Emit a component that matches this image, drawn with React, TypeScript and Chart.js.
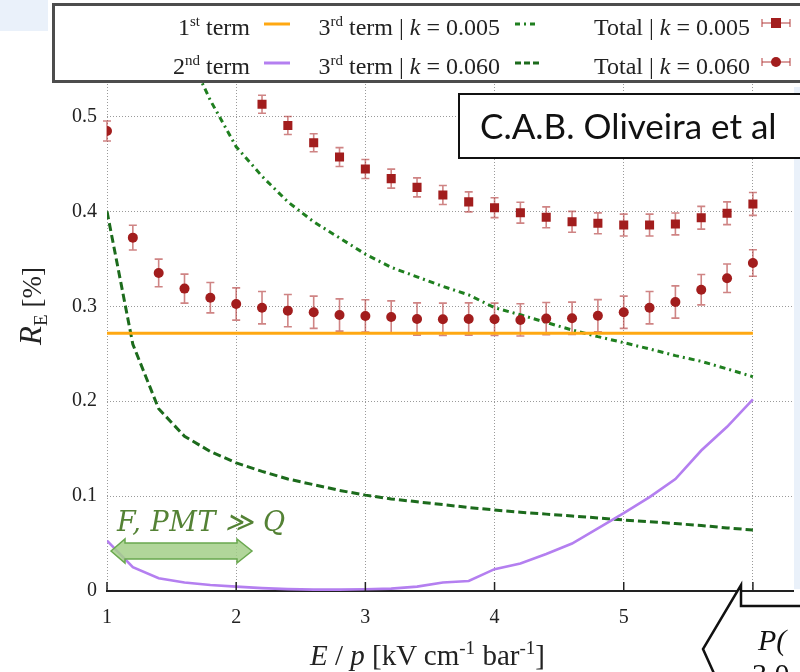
import React, { useEffect, useRef } from "react";
import { Chart, registerables } from "chart.js";

Chart.register(...registerables);

// Reduced field E/p [kV cm^-1 bar^-1]
const E_OVER_P = [
  1.0, 1.2, 1.4, 1.6, 1.8, 2.0, 2.2, 2.4, 2.6, 2.8, 3.0, 3.2, 3.4,
  3.6, 3.8, 4.0, 4.2, 4.4, 4.6, 4.8, 5.0, 5.2, 5.4, 5.6, 5.8, 6.0,
];

// 1st term (constant)
const FIRST_TERM = 0.2715;

// 2nd term
const SECOND_TERM = [
  0.053, 0.025, 0.0135, 0.009, 0.0063, 0.0046, 0.003, 0.002, 0.0015, 0.0015,
  0.0018, 0.0025, 0.0046, 0.009, 0.0105, 0.023, 0.029, 0.039, 0.05, 0.066,
  0.082, 0.099, 0.118, 0.148, 0.173, 0.202,
];

// 3rd term, k = 0.005
const THIRD_TERM_K005 = [
  null, null, null, 0.575, 0.517, 0.468, 0.437, 0.41, 0.389, 0.372, 0.355,
  0.341, 0.331, 0.321, 0.312, 0.2985, 0.291, 0.283, 0.275, 0.268, 0.2617,
  0.255, 0.248, 0.242, 0.234, 0.2258,
];

// 3rd term, k = 0.060
const THIRD_TERM_K060 = [
  0.4, 0.26, 0.192, 0.163, 0.147, 0.135, 0.126, 0.118, 0.112, 0.106, 0.101,
  0.097, 0.094, 0.091, 0.088, 0.0854, 0.083, 0.081, 0.079, 0.077, 0.0748,
  0.073, 0.071, 0.069, 0.0665, 0.0643,
];

// Total, k = 0.005 (values and uncertainties)
const TOTAL_K005 = [
  null, null, null, null, null, null, 0.5128, 0.4905, 0.4723, 0.4572, 0.4446,
  0.4345, 0.4253, 0.4172, 0.41, 0.4039, 0.3986, 0.3937, 0.389, 0.3874,
  0.3856, 0.3856, 0.3867, 0.3933, 0.398, 0.4078,
];
const TOTAL_K005_ERR = [
  null, null, null, null, null, null, 0.0095, 0.0095, 0.0095, 0.01, 0.01,
  0.01, 0.01, 0.01, 0.0105, 0.0105, 0.011, 0.011, 0.011, 0.011, 0.0115,
  0.0115, 0.0115, 0.012, 0.012, 0.012,
];

// Total, k = 0.060 (values and uncertainties)
const TOTAL_K060 = [
  0.4847, 0.3723, 0.3351, 0.3186, 0.309, 0.3024, 0.2985, 0.2954, 0.2937,
  0.2908, 0.2898, 0.2887, 0.2866, 0.2863, 0.2866, 0.2863, 0.2856, 0.287,
  0.2874, 0.29, 0.2937, 0.2985, 0.3045, 0.3175, 0.3295, 0.3456,
];
const TOTAL_K060_ERR = [
  0.0105, 0.013, 0.0146, 0.0153, 0.016, 0.017, 0.017, 0.017, 0.017, 0.017,
  0.017, 0.017, 0.017, 0.017, 0.017, 0.017, 0.017, 0.017, 0.017, 0.017,
  0.017, 0.017, 0.017, 0.016, 0.015, 0.014,
];

const X_TICKS = [1, 2, 3, 4, 5, 6];
const Y_TICKS = [0, 0.1, 0.2, 0.3, 0.4, 0.5];

const RED = "#a21d1d";
const RED_ERR = "rgba(175, 50, 50, 0.6)";
const ORANGE = "#ffa812";
const PURPLE = "#b47ff0";
const GREEN_DD = "#1f7f1f";
const GREEN_D = "#1c6b1c";
const SERIF = "'Liberation Serif', 'Times New Roman', serif";

const points = (ys: (number | null)[]) =>
  E_OVER_P.map((x, i) => ({ x, y: ys[i] }));

// vertical error bars drawn under the markers
const errorBarPlugin = {
  id: "errorBars",
  beforeDatasetsDraw(chart: any) {
    const { ctx, scales } = chart;
    const xs = scales.x;
    const ys = scales.y;
    chart.data.datasets.forEach((ds: any) => {
      if (!ds.errors) return;
      ctx.save();
      ctx.strokeStyle = RED_ERR;
      ctx.lineWidth = 1.6;
      ds.data.forEach((p: any, j: number) => {
        const e = ds.errors[j];
        if (p.y == null || e == null) return;
        const px = xs.getPixelForValue(p.x);
        const top = ys.getPixelForValue(p.y + e);
        const bot = ys.getPixelForValue(p.y - e);
        ctx.beginPath();
        ctx.moveTo(px, top);
        ctx.lineTo(px, bot);
        ctx.moveTo(px - 4, top);
        ctx.lineTo(px + 4, top);
        ctx.moveTo(px - 4, bot);
        ctx.lineTo(px + 4, bot);
        ctx.stroke();
      });
      ctx.restore();
    });
  },
};

// inward tick marks on the bottom axis
const innerTicksPlugin = {
  id: "innerTicks",
  afterDraw(chart: any) {
    const { ctx, chartArea, scales } = chart;
    ctx.save();
    ctx.strokeStyle = "#222";
    ctx.lineWidth = 1.5;
    X_TICKS.forEach((v) => {
      const px = scales.x.getPixelForValue(v);
      ctx.beginPath();
      ctx.moveTo(px, chartArea.bottom);
      ctx.lineTo(px, chartArea.bottom - 9);
      ctx.stroke();
    });
    ctx.restore();
  },
};

function buildConfig(): any {
  return {
    type: "line",
    data: {
      datasets: [
        {
          label: "Total | k = 0.005",
          data: points(TOTAL_K005),
          errors: TOTAL_K005_ERR,
          showLine: false,
          pointStyle: "rect",
          pointRadius: 6.4,
          pointBackgroundColor: RED,
          pointBorderWidth: 0,
        },
        {
          label: "Total | k = 0.060",
          data: points(TOTAL_K060),
          errors: TOTAL_K060_ERR,
          showLine: false,
          pointStyle: "circle",
          pointRadius: 5,
          pointBackgroundColor: RED,
          pointBorderWidth: 0,
        },
        {
          label: "1st term",
          data: [
            { x: E_OVER_P[0], y: FIRST_TERM },
            { x: E_OVER_P[E_OVER_P.length - 1], y: FIRST_TERM },
          ],
          borderColor: ORANGE,
          borderWidth: 3,
          pointRadius: 0,
        },
        {
          label: "2nd term",
          data: points(SECOND_TERM),
          borderColor: PURPLE,
          borderWidth: 2.6,
          pointRadius: 0,
        },
        {
          label: "3rd term | k = 0.005",
          data: points(THIRD_TERM_K005),
          borderColor: GREEN_DD,
          borderWidth: 3,
          borderDash: [6, 4, 2, 4],
          pointRadius: 0,
        },
        {
          label: "3rd term | k = 0.060",
          data: points(THIRD_TERM_K060),
          borderColor: GREEN_D,
          borderWidth: 3,
          borderDash: [8, 4],
          pointRadius: 0,
        },
      ],
    },
    options: {
      animation: false,
      responsive: false,
      events: [],
      layout: { padding: { left: 8, top: 69, right: 0, bottom: 0 } },
      plugins: { legend: { display: false }, tooltip: { enabled: false } },
      scales: {
        x: {
          type: "linear",
          min: 1,
          max: 6.315,
          afterFit: (s: any) => {
            s.height = 81;
          },
          ticks: {
            stepSize: 1,
            includeBounds: false,
            padding: 15,
            color: "#222",
            font: { family: SERIF, size: 20 },
            callback: (v: number) => String(v),
          },
          grid: { color: "#9a9a9a", lineWidth: 1, drawTicks: false },
          border: { display: true, color: "#222", width: 2, dash: [1, 2] },
        },
        y: {
          type: "linear",
          min: 0,
          max: 0.55,
          afterFit: (s: any) => {
            s.width = 99;
          },
          afterBuildTicks: (s: any) => {
            s.ticks = Y_TICKS.map((value) => ({ value }));
          },
          ticks: {
            padding: 10,
            color: "#222",
            font: { family: SERIF, size: 20 },
            callback: (v: number) => (v === 0 ? "0" : Number(v).toFixed(1)),
          },
          grid: { color: "#9a9a9a", lineWidth: 1, drawTicks: false },
          border: { display: false, dash: [1, 2] },
        },
      },
    },
    plugins: [errorBarPlugin, innerTicksPlugin],
  };
}

const Sup = ({ children }: { children: string }) => (
  <>
    <tspan dy={-9} fontSize={15}>
      {children}
    </tspan>
    <tspan dy={9}> </tspan>
  </>
);

function Overlay() {
  const legendText = {
    fontFamily: SERIF,
    fontSize: 24,
    fill: "#222",
    textAnchor: "end" as const,
  };
  return (
    <svg
      width={800}
      height={672}
      style={{ position: "absolute", left: 0, top: 0 }}
    >
      {/* slide background pieces */}
      <rect x={0} y={0} width={48} height={31} fill="#eaf1fa" />
      <rect x={794} y={87} width={6} height={502} fill="#eaf1fa" />

      {/* key */}
      <rect
        x={53.5}
        y={4.5}
        width={780}
        height={77}
        fill="#fff"
        stroke="#4d4d4d"
        strokeWidth={3}
      />
      <text x={250} y={35} {...legendText}>
        1<Sup>st</Sup>term
      </text>
      <text x={250} y={74} {...legendText}>
        2<Sup>nd</Sup>term
      </text>
      <text x={500} y={35} {...legendText}>
        3<Sup>rd</Sup>term | <tspan fontStyle="italic">k</tspan> = 0.005
      </text>
      <text x={500} y={74} {...legendText}>
        3<Sup>rd</Sup>term | <tspan fontStyle="italic">k</tspan> = 0.060
      </text>
      <text x={750} y={35} {...legendText}>
        Total | <tspan fontStyle="italic">k</tspan> = 0.005
      </text>
      <text x={750} y={74} {...legendText}>
        Total | <tspan fontStyle="italic">k</tspan> = 0.060
      </text>
      <line x1={264} y1={24} x2={290} y2={24} stroke={ORANGE} strokeWidth={3} />
      <line x1={264} y1={63} x2={290} y2={63} stroke={PURPLE} strokeWidth={3} />
      <line
        x1={515}
        y1={24}
        x2={538}
        y2={24}
        stroke={GREEN_DD}
        strokeWidth={3}
        strokeDasharray="5 4 2 4"
      />
      <line
        x1={515}
        y1={63}
        x2={539}
        y2={63}
        stroke={GREEN_D}
        strokeWidth={3}
        strokeDasharray="6 3"
      />
      <g stroke={RED_ERR} strokeWidth={1.6}>
        <line x1={762} y1={23} x2={790} y2={23} />
        <line x1={762} y1={19} x2={762} y2={27} />
        <line x1={790} y1={19} x2={790} y2={27} />
        <line x1={762} y1={62} x2={790} y2={62} />
        <line x1={762} y1={58} x2={762} y2={66} />
        <line x1={790} y1={58} x2={790} y2={66} />
      </g>
      <rect x={771} y={18} width={10} height={10} fill={RED} />
      <circle cx={776} cy={62} r={5} fill={RED} />

      {/* axis titles */}
      <text x={310} y={665} fontFamily={SERIF} fontSize={29} fill="#222">
        <tspan fontStyle="italic">E</tspan> / <tspan fontStyle="italic">p</tspan> [kV cm
        <tspan dy={-11} fontSize={19}>-1</tspan>
        <tspan dy={11}> bar</tspan>
        <tspan dy={-11} fontSize={19}>-1</tspan>
        <tspan dy={11}>]</tspan>
      </text>
      <text
        transform="translate(41 306) rotate(-90)"
        textAnchor="middle"
        fontFamily={SERIF}
        fontSize={27}
        fill="#222"
      >
        <tspan fontStyle="italic" fontSize={31}>R</tspan>
        <tspan dy={6} fontSize={19}>E</tspan>
        <tspan dy={-6}> [%]</tspan>
      </text>

      {/* author box */}
      <rect
        x={459}
        y={94}
        width={380}
        height={64}
        fill="#fff"
        stroke="#111"
        strokeWidth={2}
      />
      <text x={480} y={139} fontFamily="Lato, 'Open Sans', sans-serif" fontSize={35} fill="#111">
        C.A.B. Oliveira et al
      </text>

      {/* regime marker */}
      <polygon
        points="111,551 125,539 125,543 237,543 237,539 252,551 237,563 237,559 125,559 125,563"
        fill="#a3cf88"
        fillOpacity={0.85}
        stroke="#6aa84f"
        strokeWidth={1.5}
      />
      <text
        x={117}
        y={531}
        fontFamily="'DejaVu Serif', serif"
        fontStyle="italic"
        fontSize={27}
        letterSpacing={0.6}
        fill="#548235"
      >
        F, PMT ≫ Q
      </text>

      {/* callout */}
      <polygon
        points="741,585 741,606 840,606 840,720 735,720 703,649"
        fill="#fff"
        stroke="#111"
        strokeWidth={2.5}
      />
      <text
        x={758}
        y={650}
        fontFamily={SERIF}
        fontStyle="italic"
        fontSize={30}
        fill="#111"
      >
        P(
      </text>
      <text x={752} y={684} fontFamily={SERIF} fontSize={30} fill="#111">
        3.0
      </text>
    </svg>
  );
}

export default function App() {
  const canvasRef = useRef<HTMLCanvasElement>(null);
  useEffect(() => {
    const chart = new Chart(canvasRef.current as HTMLCanvasElement, buildConfig());
    return () => chart.destroy();
  }, []);
  return (
    <div
      style={{
        position: "fixed",
        left: 0,
        top: 0,
        width: 800,
        height: 672,
        overflow: "hidden",
        background: "#fff",
      }}
    >
      <canvas
        ref={canvasRef}
        width={800}
        height={672}
        style={{ position: "absolute", left: 0, top: 0, width: 800, height: 672 }}
      />
      <Overlay />
    </div>
  );
}
